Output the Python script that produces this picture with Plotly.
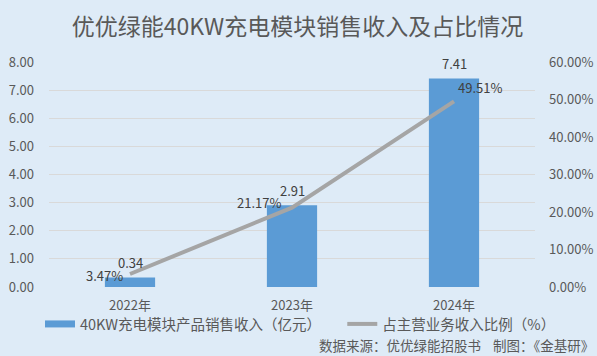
import plotly.graph_objects as go

categories = ["2022年", "2023年", "2024年"]
revenue = [0.34, 2.91, 7.41]
share = [0.0347, 0.2117, 0.4951]
revenue_labels = ["0.34", "2.91", "7.41"]
share_labels = ["3.47%", "21.17%", "49.51%"]
left_ticks = [0, 1, 2, 3, 4, 5, 6, 7, 8]
right_ticks = [0, 0.1, 0.2, 0.3, 0.4, 0.5, 0.6]

FONT = "Noto Sans CJK SC, Microsoft YaHei, sans-serif"
BG = "#DEEBF7"
BLUE = "#5B9BD5"
GRAY = "#A5A5A5"
PL, PR, PT, PB = 49, 535, 62, 287
PW, PH = PR - PL, PB - PT
BAR_NAME = "40KW充电模块产品销售收入（亿元）"
LINE_NAME = "占主营业务收入比例（%）"

fig = go.Figure()
fig.add_trace(go.Bar(
    x=categories, y=revenue, name=BAR_NAME, showlegend=False,
    marker=dict(color=BLUE, line=dict(width=0)), width=0.31, cliponaxis=False,
))
# legend entry drawn as a wide block like the original
fig.add_trace(go.Scatter(
    x=[None], y=[None], name=BAR_NAME + "\u00a0" * 5, mode="lines",
    line=dict(color=BLUE, width=7), legendrank=1,
))
fig.add_trace(go.Scatter(
    x=categories, y=share, name=LINE_NAME, yaxis="y2",
    mode="lines", line=dict(color=GRAY, width=4), legendrank=2,
))

for c, v, t in zip(categories, revenue, revenue_labels):
    fig.add_annotation(x=c, y=v, text=t, showarrow=False, yshift=15,
                       font=dict(size=13, color="#404040", family=FONT))

shifts = [(-26, -2), (-33, 5), (26, 14)]
for c, v, t, (dx, dy) in zip(categories, share, share_labels, shifts):
    fig.add_annotation(x=c, y=v, yref="y2", text=t, showarrow=False,
                       xshift=dx, yshift=dy,
                       font=dict(size=13, color="#404040", family=FONT))

fig.add_annotation(text="数据来源：优优绿能招股书" + "\u00a0" * 4 + "制图：《金基研》",
                   xref="paper", yref="paper", x=(596 - PL) / PW, y=(PB - 345) / PH,
                   xanchor="right", yanchor="middle", showarrow=False,
                   font=dict(size=13.5, color="#595959", family=FONT))

fig.update_layout(
    width=597, height=356,
    margin=dict(l=PL, r=597 - PR, t=PT, b=356 - PB, autoexpand=False),
    paper_bgcolor=BG, plot_bgcolor=BG,
    font=dict(family=FONT, color="#595959", size=12),
    title=dict(text="优优绿能40KW充电模块销售收入及占比情况", x=297.5 / 597, xref="container",
               xanchor="center", y=1 - 27 / 356, yref="container", yanchor="middle",
               font=dict(size=23, color="#595959", family=FONT)),
    xaxis=dict(showgrid=False, showline=False, ticks="", automargin=False,
               tickfont=dict(size=13, color="#595959"), ticklabelstandoff=9),
    yaxis=dict(range=[0, 8], tickvals=left_ticks, tickformat=".2f", automargin=False,
               gridcolor="#D9D9D9", gridwidth=1, zeroline=False, showline=False,
               tickfont=dict(size=13, color="#595959"), ticklabelstandoff=14),
    yaxis2=dict(range=[0, 0.6], tickvals=right_ticks, tickformat=".2%", overlaying="y",
                side="right", showgrid=False, zeroline=False, showline=False, automargin=False,
                tickfont=dict(size=13, color="#595959"), ticklabelstandoff=13),
    legend=dict(orientation="h", xref="paper", yref="paper",
                x=(40 - PL) / PW, y=(PB - 324) / PH, xanchor="left", yanchor="middle",
                font=dict(size=14.5, color="#595959", family=FONT),
                bgcolor="rgba(0,0,0,0)", itemwidth=30, traceorder="normal"),
    showlegend=True,
)

fig.write_html("out.html", config={"displayModeBar": False},
               post_script="document.body.style.margin='0';document.body.style.background='%s';" % BG)
